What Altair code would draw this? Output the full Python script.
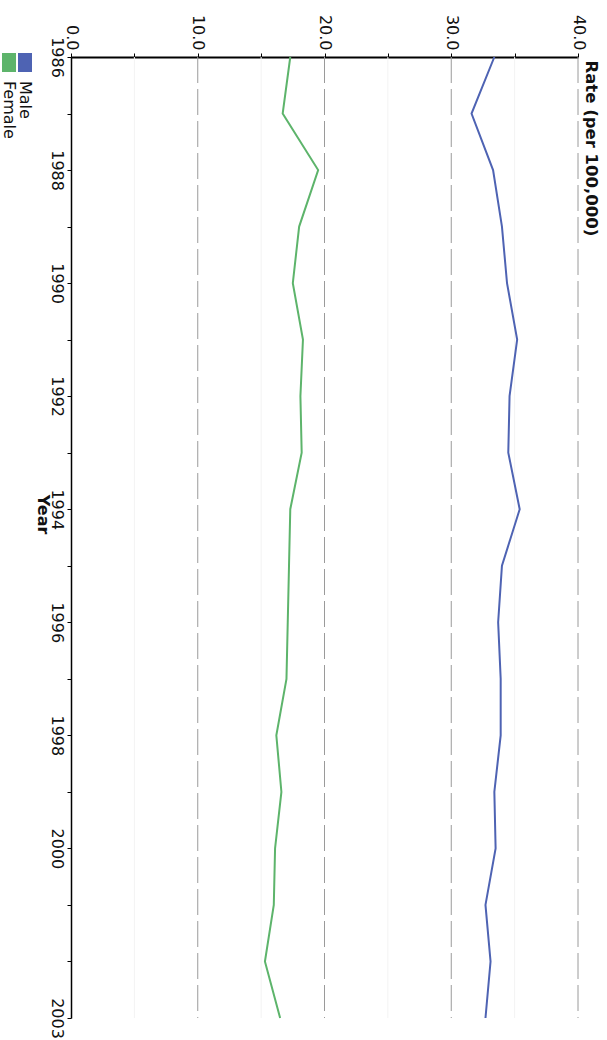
import altair as alt
import pandas as pd

# Annual rates per 100,000 by sex
years = list(range(1986, 2004))
male = [33.4, 31.6, 33.3, 34.0, 34.4, 35.2, 34.6, 34.5, 35.4, 34.0,
        33.7, 33.9, 33.9, 33.4, 33.5, 32.7, 33.1, 32.7]
female = [17.3, 16.7, 19.5, 18.0, 17.5, 18.3, 18.1, 18.2, 17.3, 17.2,
          17.1, 17.0, 16.2, 16.6, 16.1, 16.0, 15.3, 16.5]

series_names = ["Male", "Female"]
series_colors = ["#4e63b3", "#5db46b"]

rate_ticks = [0, 5, 10, 15, 20, 25, 30, 35, 40]
major_grid = [10, 20, 30, 40]
minor_grid = [5, 15, 25, 35]
year_labels = [1986, 1988, 1990, 1992, 1994, 1996, 1998, 2000, 2003]

FONT = "DejaVu Sans"
W, H = 507, 961

df = pd.DataFrame({
    "Year": years * 2,
    "Rate": male + female,
    "Sex": ["Male"] * len(years) + ["Female"] * len(years),
})

color_scale = alt.Scale(domain=series_names, range=series_colors)
x_scale = alt.Scale(domain=[0, 40], nice=False, zero=True)
y_scale = alt.Scale(domain=[years[0], years[-1]], nice=False, zero=False, reverse=True)

x_axis = alt.Axis(
    orient="top", values=rate_ticks, format=".1f",
    labelExpr="datum.value % 10 == 0 ? datum.label : ''",
    labelAngle=90, labelAlign="right", labelBaseline="middle",
    labelPadding=3, labelFlush=False, labelOverlap=False, labelBound=False,
    labelFont=FONT, labelFontSize=16, labelColor="#111",
    tickSize=4, tickColor="#000", domainColor="#000", domainWidth=2,
    grid=False,
    title="Rate (per 100,000)", titleAngle=90, titleX=W + 12, titleY=3,
    titleAlign="left", titleBaseline="middle",
    titleFont=FONT, titleFontSize=16.5, titleFontWeight="bold", titleColor="#111",
)

year_expr = "indexof([" + ",".join(str(v) for v in year_labels) + "], datum.value) >= 0 ? datum.label : ''"
y_axis = alt.Axis(
    orient="left", values=years, format="d",
    labelExpr=year_expr,
    labelAngle=90, labelAlign="center", labelBaseline="top",
    labelPadding=3, labelFlush=False, labelOverlap=False, labelBound=False,
    labelFont=FONT, labelFontSize=16, labelColor="#111",
    tickSize=4, tickColor="#000", domainColor="#000", domainWidth=1.5,
    grid=False,
    title="Year", titleAngle=90, titleX=-29, titleY=457,
    titleAlign="center", titleBaseline="middle",
    titleFont=FONT, titleFontSize=16, titleFontWeight="bold", titleColor="#111",
)

minor = alt.Chart(pd.DataFrame({"Rate": minor_grid})).mark_rule(
    color="#f3f3f3", strokeWidth=1
).encode(x=alt.X("Rate:Q", scale=x_scale))

major = alt.Chart(pd.DataFrame({"Rate": major_grid})).mark_rule(
    color="#9a9a9a", strokeWidth=1, strokeDash=[26, 6]
).encode(x=alt.X("Rate:Q", scale=x_scale))

lines = alt.Chart(df).mark_line(strokeWidth=2).encode(
    x=alt.X("Rate:Q", scale=x_scale, axis=x_axis),
    y=alt.Y("Year:Q", scale=y_scale, axis=y_axis),
    color=alt.Color("Sex:N", scale=color_scale, legend=None),
    order=alt.Order("Year:Q"),
)

# Hand-built legend: swatch above each rotated label, columns going left
legend_layers = []
for i, name in enumerate(series_names):
    row = alt.Data(values=[{"Sex": name}])
    x0 = -53 - 16 * i
    swatch = alt.Chart(row).mark_rect().encode(
        x=alt.value(x0), x2=alt.value(x0 + 14),
        y=alt.value(-4), y2=alt.value(15),
        color=alt.Color("Sex:N", scale=color_scale, legend=None),
    )
    label = alt.Chart(row).mark_text(
        angle=90, align="left", baseline="middle",
        font=FONT, fontSize=16, color="#111",
    ).encode(
        x=alt.value(x0 + 7), y=alt.value(24), text="Sex:N",
    )
    legend_layers += [swatch, label]

chart = alt.layer(minor, major, lines, *legend_layers).properties(
    width=W, height=H,
    autosize=alt.AutoSizeParams(type="none"),
    padding={"left": 71, "top": 57, "right": 29, "bottom": 22},
    background="white",
).configure_view(stroke=None)

chart.save("out.html", embed_options={"renderer": "svg", "actions": False})
